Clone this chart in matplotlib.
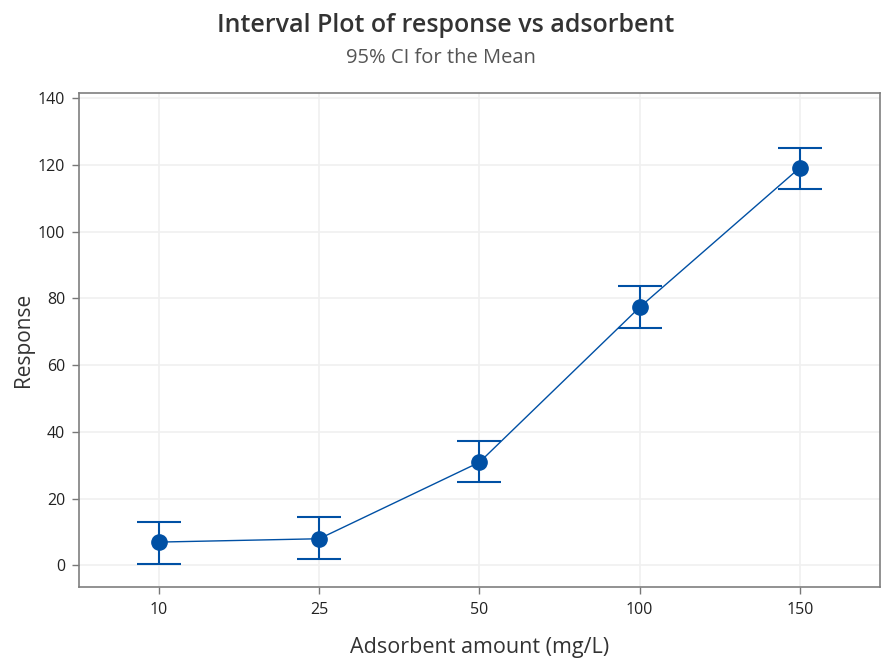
import numpy as np
import matplotlib
matplotlib.use('agg')
import matplotlib.pyplot as plt

plt.rcParams['font.family'] = ['Open Sans', 'DejaVu Sans']

# data
doses = ['10', '25', '50', '100', '150']
means = [7.0, 8.0, 30.9, 77.3, 119.1]
ci_low = [0.3, 2.0, 24.9, 71.2, 112.6]
ci_high = [13.0, 14.5, 37.4, 83.6, 125.1]
yticks = [0, 20, 40, 60, 80, 100, 120, 140]

blue = '#0050A4'

fig = plt.figure(figsize=(8.82, 6.59), dpi=100)
ax = fig.add_axes([0.0896, 0.109, 0.908, 0.750])

x = np.arange(len(doses))
m = np.array(means)
err = np.vstack([m - np.array(ci_low), np.array(ci_high) - m])

ax.plot(x, m, color=blue, lw=1.0, zorder=3)
ax.errorbar(x, m, yerr=err, fmt='o', color=blue, ms=11, lw=1.5,
            capsize=16, capthick=1.5, zorder=4)

ax.set_xlim(-0.5, 4.5)
ax.set_ylim(-6.5, 141.5)
ax.set_xticks(x)
ax.set_xticklabels(doses)
ax.set_yticks(yticks)
ax.tick_params(labelsize=11.5, colors='#222222', length=5, width=1, direction='out',
               color='#777777', pad=5)
ax.tick_params(axis='x', pad=6)

ax.grid(True, color='#F0F0F0', lw=1.2)
ax.set_axisbelow(True)
for s in ax.spines.values():
    s.set_color('#7F7F7F')
    s.set_linewidth(1.2)

ax.set_xlabel('Adsorbent amount (mg/L)', fontsize=15.5, color='#333333', labelpad=13)
ax.set_ylabel('Response', fontsize=15, color='#333333', labelpad=3)

fig.text(0.505, 0.962, 'Interval Plot of response vs adsorbent', ha='center', va='center',
         fontsize=18, color='#333333', fontweight='semibold')
fig.text(0.5, 0.912, '95% CI for the Mean', ha='center', va='center',
         fontsize=14.5, color='#555555')

fig.savefig('out.png', dpi=100)
